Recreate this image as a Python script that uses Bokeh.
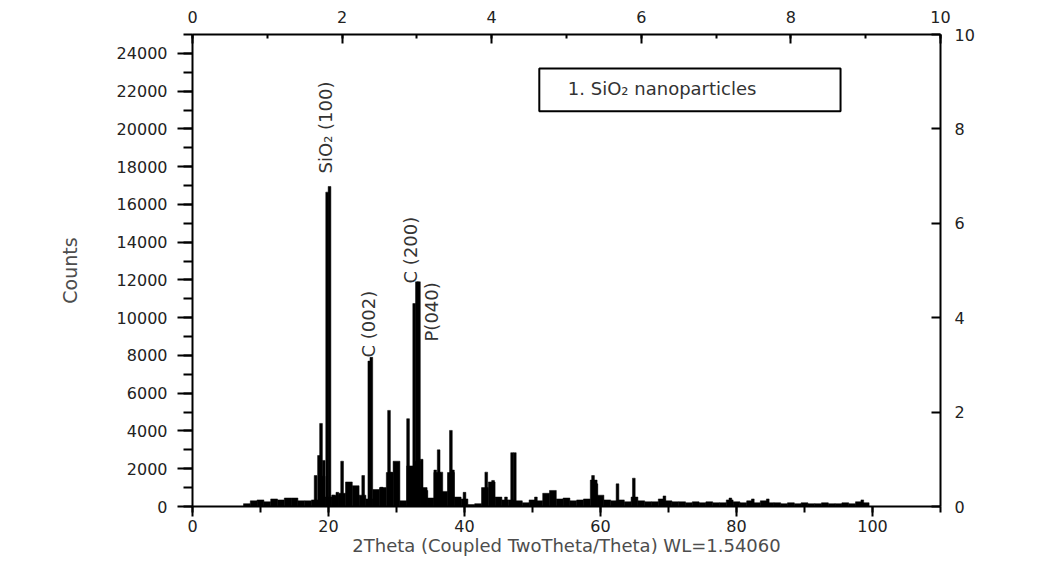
from bokeh.plotting import figure
from bokeh.models import Range1d, LinearAxis, SingleIntervalTicker, Label, BoxAnnotation, ColumnDataSource, BasicTickFormatter
from bokeh.embed import file_html
from bokeh.resources import INLINE

# ---- data ----
bg_theta = list(range(8, 100))
bg_counts = [150, 300, 350, 250, 400, 350, 450, 450, 300, 300,
             350, 1600, 500, 600, 700, 1300, 1100, 600, 400, 900,
             1000, 1800, 2400, 300, 2150, 2400, 1000, 450, 1800, 800,
             1800, 500, 400, 100, 150, 1000, 1300, 500, 350, 350,
             300, 200, 350, 300, 700, 850, 400, 450, 300, 350,
             400, 1400, 600, 350, 300, 350, 250, 500, 300, 250,
             250, 400, 300, 250, 250, 200, 250, 200, 250, 200,
             200, 350, 250, 200, 300, 200, 300, 200, 200, 150,
             200, 150, 200, 150, 150, 200, 150, 150, 200, 150,
             250, 200]

peak_theta = [18.1, 18.6, 18.9, 19.3, 19.8, 20.15, 20.7, 21.3, 22.0, 25.1,
              26.0, 26.3, 27.8, 28.9, 29.2, 31.7, 32.6, 33.0, 33.3, 33.7,
              34.4, 35.7, 36.2, 36.6, 37.8, 38.0, 38.3, 40.0, 43.2, 44.2,
              46.1, 47.0, 47.4, 50.5, 58.9, 59.4, 62.5, 64.9, 69.4, 79.1,
              82.4, 84.6, 98.5]
peak_counts = [1640, 2700, 4400, 2440, 16650, 16950, 600, 750, 2400, 1640,
               7700, 7900, 1020, 5090, 1820, 4650, 10750, 11900, 11900, 2500,
               850, 1930, 3000, 1820, 1640, 4030, 1930, 750, 1820, 1380,
               500, 2850, 2850, 500, 1640, 1200, 1200, 1500, 560, 450,
               400, 400, 350]

ann_text = ["SiO\u2082 (100)", "C (002)", "C (200)", "P(040)"]
ann_theta = [19.5, 25.9, 32.0, 35.2]
ann_counts = [17640, 7890, 11815, 8740]

legend_text = "1. SiO\u2082 nanoparticles"
x_title = "2Theta (Coupled TwoTheta/Theta) WL=1.54060"
y_title = "Counts"

FONT = "DejaVu Sans"

p = figure(width=1022, height=560, x_range=Range1d(0, 110), y_range=Range1d(0, 25000),
           output_backend="svg", toolbar_location=None,
           min_border_left=192, min_border_right=82, min_border_top=34, min_border_bottom=54)
p.outline_line_color = None
p.xgrid.visible = False
p.ygrid.visible = False
p.background_fill_color = "white"

p.vbar(x="x", top="top", width=1.0, bottom=0, source=ColumnDataSource(dict(x=bg_theta, top=bg_counts)),
       fill_color="black", line_color="black", line_width=0.5)
p.vbar(x="x", top="top", width=0.4, bottom=0, source=ColumnDataSource(dict(x=peak_theta, top=peak_counts)),
       fill_color="black", line_color="black", line_width=0.5)

def style(ax):
    ax.axis_line_color = "black"
    ax.axis_line_width = 2
    ax.major_tick_line_color = "black"
    ax.major_tick_line_width = 2
    ax.minor_tick_line_color = "black"
    ax.minor_tick_line_width = 2
    ax.major_label_text_font = FONT
    ax.major_label_text_font_size = "16px"
    ax.major_label_text_color = "#222222"
    ax.axis_label_text_font = FONT
    ax.axis_label_text_font_size = "18px"
    ax.axis_label_text_font_style = "normal"
    ax.axis_label_text_color = "#4d4d4d"

xa = p.xaxis[0]
style(xa)
xa.ticker = SingleIntervalTicker(interval=20, num_minor_ticks=2)
xa.major_tick_out = 10
xa.major_tick_in = 0
xa.minor_tick_out = 6
xa.minor_tick_in = 0
xa.major_label_standoff = 3
xa.axis_label = x_title
xa.axis_label_standoff = 0

ya = p.yaxis[0]
style(ya)
ya.axis_label_text_font_size = "19px"
ya.ticker = SingleIntervalTicker(interval=2000, num_minor_ticks=2)
ya.formatter = BasicTickFormatter(use_scientific=False)
ya.major_tick_out = 15
ya.major_tick_in = 0
ya.minor_tick_out = 9
ya.minor_tick_in = 0
ya.major_label_standoff = 10
ya.axis_label = y_title
ya.axis_label_standoff = 33

p.extra_x_ranges = {"top": Range1d(0, 10)}
p.extra_y_ranges = {"right": Range1d(0, 10)}

ta = LinearAxis(x_range_name="top", ticker=SingleIntervalTicker(interval=2, num_minor_ticks=2))
style(ta)
ta.major_tick_in = 9
ta.major_tick_out = 0
ta.minor_tick_in = 4
ta.minor_tick_out = 0
ta.major_label_standoff = 12
p.add_layout(ta, "above")

ra = LinearAxis(y_range_name="right", ticker=SingleIntervalTicker(interval=2, num_minor_ticks=0))
style(ra)
ra.major_tick_in = 9
ra.major_tick_out = 0
ra.minor_tick_in = 0
ra.minor_tick_out = 0
ra.major_label_standoff = 14
p.add_layout(ra, "right")

# legend box
p.add_layout(BoxAnnotation(left=51, right=95.3, bottom=20930, top=23200,
                           fill_color="white", fill_alpha=1.0, line_color="black",
                           line_alpha=1.0, line_width=2))
p.add_layout(Label(x=55.2, y=22150, text=legend_text, text_font=FONT, text_font_size="18px",
                   text_color="#333333", text_baseline="middle", text_align="left"))

for t, xx, yy in zip(ann_text, ann_theta, ann_counts):
    p.add_layout(Label(x=xx, y=yy, text=t, angle=90, angle_units="deg", text_font=FONT,
                       text_font_size="18px", text_color="#333333",
                       text_align="left", text_baseline="middle"))

open("out.html", "w").write(file_html(p, INLINE))
